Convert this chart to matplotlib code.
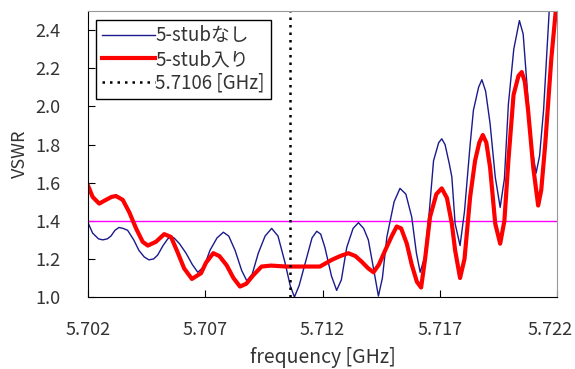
import matplotlib
matplotlib.use("Agg")
from matplotlib import pyplot as plt
from matplotlib.transforms import ScaledTranslation

plt.rcParams['font.family'] = ['Noto Sans CJK JP', 'DejaVu Sans']

# 5-stub なし (blue)
freq_a = [5.7020, 5.7022, 5.70245, 5.70263, 5.70282, 5.70298, 5.70315, 5.70332,
          5.70350, 5.70369, 5.70395, 5.70417, 5.70440, 5.70460, 5.70480, 5.70497,
          5.70520, 5.70540, 5.70553, 5.70567, 5.70590, 5.70618, 5.70645, 5.70668,
          5.70695, 5.70720, 5.70750, 5.70777, 5.70800, 5.70827, 5.70855, 5.70877,
          5.70900, 5.70926, 5.70955, 5.70983, 5.71010, 5.71040, 5.71062, 5.71080,
          5.71100, 5.71133, 5.71155, 5.71175, 5.71192, 5.71210, 5.71238, 5.71260,
          5.71280, 5.71303, 5.71330, 5.71353, 5.71375, 5.71395, 5.71420, 5.71438,
          5.71455, 5.71474, 5.71505, 5.71530, 5.71555, 5.71580, 5.71600, 5.71616,
          5.71635, 5.71655, 5.71673, 5.71695, 5.71708, 5.71722, 5.71740, 5.71751,
          5.71765, 5.71786, 5.71805, 5.71829, 5.71843, 5.71865, 5.71879, 5.71895,
          5.71914, 5.71936, 5.71957, 5.71975, 5.71992, 5.72015, 5.72039, 5.72055,
          5.72069, 5.72090, 5.72110, 5.72125, 5.72142, 5.72166, 5.72180]
vswr_a = [1.39, 1.335, 1.305, 1.30, 1.305, 1.32, 1.35, 1.365,
          1.36, 1.35, 1.30, 1.245, 1.21, 1.195, 1.20, 1.22,
          1.27, 1.305, 1.315, 1.31, 1.28, 1.23, 1.17, 1.13,
          1.16, 1.245, 1.31, 1.34, 1.32, 1.245, 1.14, 1.085,
          1.12, 1.23, 1.32, 1.36, 1.32, 1.18, 1.06, 1.00,
          1.06, 1.21, 1.31, 1.345, 1.33, 1.26, 1.11, 1.035,
          1.09, 1.26, 1.36, 1.39, 1.36, 1.30, 1.13, 1.005,
          1.10, 1.315, 1.50, 1.57, 1.54, 1.42, 1.23, 1.13,
          1.21, 1.45, 1.715, 1.81, 1.83, 1.80, 1.70, 1.63,
          1.385, 1.27, 1.45, 1.80, 1.98, 2.10, 2.14, 2.08,
          1.91, 1.63, 1.47, 1.62, 2.01, 2.30, 2.45, 2.38,
          2.15, 1.80, 1.65, 1.74, 1.98, 2.50, 2.60]

# 5-stub 入り (red)
freq_b = [5.7020, 5.7022, 5.70248, 5.70277, 5.70300, 5.70319, 5.70348, 5.70376,
          5.70405, 5.70433, 5.70455, 5.70490, 5.70525, 5.70554, 5.70582, 5.70610,
          5.70643, 5.70682, 5.70703, 5.70734, 5.70760, 5.70791, 5.70820, 5.70848,
          5.70875, 5.70905, 5.70940, 5.70980, 5.71047, 5.71120, 5.71189, 5.71239,
          5.71275, 5.71310, 5.71340, 5.71367, 5.71395, 5.71417, 5.71440, 5.71467,
          5.71495, 5.71516, 5.71535, 5.71559, 5.71580, 5.71602, 5.71620, 5.71637,
          5.71658, 5.71685, 5.71708, 5.71730, 5.71751, 5.71765, 5.71786, 5.71805,
          5.71829, 5.71850, 5.71868, 5.71883, 5.71898, 5.71914, 5.71936, 5.71957,
          5.71975, 5.71992, 5.72014, 5.72035, 5.72049, 5.72062, 5.72076, 5.72098,
          5.72119, 5.72132, 5.72149, 5.72175, 5.72194, 5.72205]
vswr_b = [1.585, 1.525, 1.49, 1.51, 1.525, 1.53, 1.51, 1.445,
          1.36, 1.29, 1.27, 1.29, 1.33, 1.315, 1.235, 1.15,
          1.095, 1.125, 1.18, 1.23, 1.215, 1.167, 1.10, 1.055,
          1.07, 1.115, 1.16, 1.165, 1.16, 1.16, 1.16, 1.195,
          1.215, 1.23, 1.215, 1.185, 1.15, 1.13, 1.17, 1.245,
          1.32, 1.37, 1.36, 1.28, 1.17, 1.08, 1.05, 1.20,
          1.42, 1.54, 1.57, 1.52, 1.385, 1.245, 1.10, 1.20,
          1.525, 1.715, 1.81, 1.85, 1.81, 1.68, 1.385, 1.28,
          1.40, 1.715, 2.06, 2.16, 2.18, 2.13, 1.98, 1.68,
          1.48, 1.56, 1.80, 2.25, 2.50, 2.60]

f_mark = 5.7106
vswr_limit = 1.4
xticks = [5.702, 5.707, 5.712, 5.717, 5.722]
yticks = [1.0, 1.2, 1.4, 1.6, 1.8, 2.0, 2.2, 2.4]

fig = plt.figure(figsize=(5.75, 3.69), dpi=100)
ax = fig.add_axes([0.153, 0.195, 0.816, 0.775])

ax.axhline(vswr_limit, color='#ff00ff', lw=1)
ax.plot(freq_a, vswr_a, color='#1a1a8c', lw=1, label='5-stubなし')
ax.plot(freq_b, vswr_b, color='#ff0000', lw=3, label='5-stub入り')
ax.axvline(f_mark, color='black', lw=1.8, ls=(0, (1, 2)), label='5.7106 [GHz]')

ax.set_xlim(5.702, 5.722)
ax.set_ylim(1.0, 2.5)
ax.set_xticks(xticks)
ax.set_xticklabels([f"{t:.3f}" for t in xticks])
ax.set_yticks(yticks)
ax.set_yticklabels([f"{t:.1f}" for t in yticks])
ax.tick_params(direction='in', length=5, labelsize=13, colors='black',
               labelcolor='#333333')
ax.tick_params(axis='x', pad=17)
ax.tick_params(axis='y', pad=20)

# last x label sits right at the figure edge
last = ax.get_xticklabels()[-1]
last.set_transform(last.get_transform() + ScaledTranslation(-5 / 72, 0, fig.dpi_scale_trans))

for s in ['top', 'right']:
    ax.spines[s].set_color('#999999')
for s in ['left', 'bottom']:
    ax.spines[s].set_color('black')

ax.set_xlabel('frequency [GHz]', fontsize=14, color='#333333', labelpad=6)
ax.set_ylabel('VSWR', fontsize=13, color='#333333', labelpad=4)

leg = ax.legend(loc='upper left', fontsize=13.5, frameon=True, fancybox=False,
                edgecolor='black', framealpha=1, handlelength=2.8,
                handletextpad=0.05, borderpad=0.3, labelspacing=0.15,
                borderaxespad=0.45)
leg.get_frame().set_linewidth(1)
for t in leg.get_texts():
    t.set_color('#333333')

plt.savefig('out.png')
